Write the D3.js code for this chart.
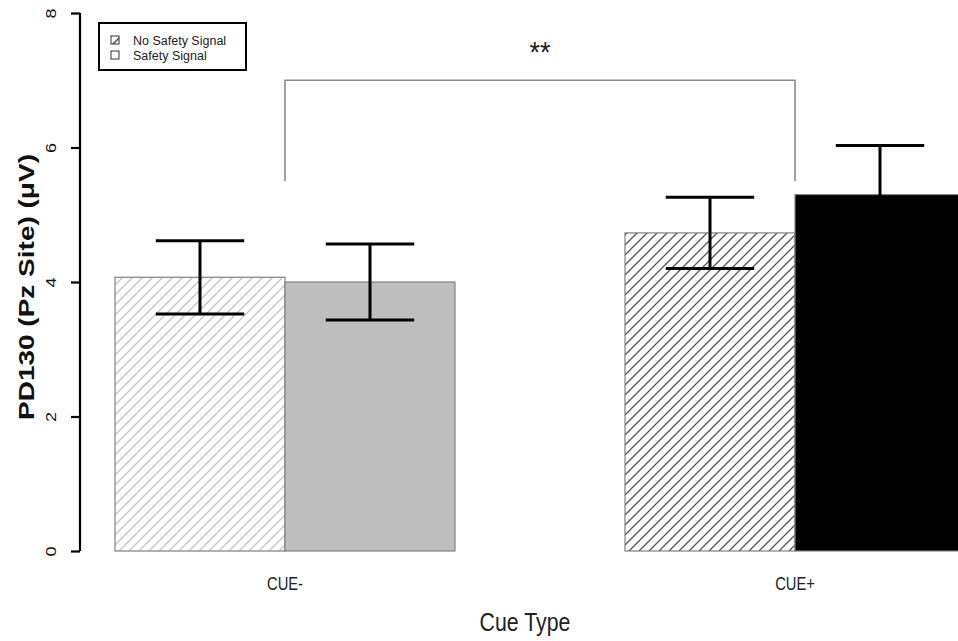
<!DOCTYPE html>
<html>
<head>
<meta charset="utf-8">
<script src="https://cdn.jsdelivr.net/npm/d3@7"></script>
<style>
  body { margin: 0; background: #fff; }
  text { font-family: "Liberation Sans", Arial, sans-serif; }
</style>
</head>
<body>
<div id="chart"></div>
<script>
//data
var groups = ["CUE-", "CUE+"],
    series = ["No Safety Signal", "Safety Signal"];
var noSignalMean = [4.07, 4.73],
    noSignalSE = [0.545, 0.53],
    safetyMean = [4.00, 5.30],
    safetySE = [0.565, 0.73];
var yTicks = [0, 2, 4, 6, 8];
var bracketFrom = 5.5, bracketTo = 7.0, bracketLabel = "**";

var width = 958, height = 641;
var squish = 0.82; //the original figure is a bit narrow horizontally

var svg = d3.select("#chart").append("svg")
    .attr("width", width)
    .attr("height", height);

//hatch patterns
var defs = svg.append("defs");
function hatch(id, color) {
  var p = defs.append("pattern")
      .attr("id", id)
      .attr("patternUnits", "userSpaceOnUse")
      .attr("width", 10)
      .attr("height", 10);
  p.append("rect").attr("width", 10).attr("height", 10).attr("fill", "white");
  p.append("path")
      .attr("d", "M0,10 L10,0 M-2,2 L2,-2 M8,12 L12,8")
      .attr("stroke", color)
      .attr("stroke-width", 1.3);
}
hatch("hatchLight", "#c4c4c4");
hatch("hatchDark", "#555");
hatch("hatchLegend", "#444");

//scales
var y = d3.scaleLinear().domain([0, 8]).range([551, 13]);
var x0 = d3.scaleBand().domain(groups).range([115, 965]).paddingInner(1 / 3).paddingOuter(0);
var x1 = d3.scaleBand().domain(series).range([0, x0.bandwidth()]);

//one row per bar
var fills = {
  "CUE-": ["url(#hatchLight)", "#bebebe"],
  "CUE+": ["url(#hatchDark)", "#000"]
};
var bars = [];
groups.forEach(function (g, i) {
  bars.push({group: g, series: series[0], mean: noSignalMean[i], se: noSignalSE[i], fill: fills[g][0]});
  bars.push({group: g, series: series[1], mean: safetyMean[i], se: safetySE[i], fill: fills[g][1]});
});

//bars
svg.append("g")
  .selectAll("rect")
  .data(bars)
  .enter().append("rect")
    .attr("x", function (d) { return x0(d.group) + x1(d.series); })
    .attr("y", function (d) { return y(d.mean); })
    .attr("width", x1.bandwidth())
    .attr("height", function (d) { return y(0) - y(d.mean); })
    .attr("fill", function (d) { return d.fill; })
    .attr("stroke", "#808080")
    .attr("stroke-width", 1.2);

//error bars
var cap = x1.bandwidth() * 0.26;
var err = svg.append("g")
  .selectAll("g")
  .data(bars)
  .enter().append("g")
    .attr("stroke", "black")
    .attr("stroke-width", 3);
function cx(d) { return x0(d.group) + x1(d.series) + x1.bandwidth() / 2; }
err.append("line")
    .attr("x1", cx).attr("x2", cx)
    .attr("y1", function (d) { return y(d.mean + d.se); })
    .attr("y2", function (d) { return y(d.mean - d.se); });
err.append("line")
    .attr("x1", function (d) { return cx(d) - cap; })
    .attr("x2", function (d) { return cx(d) + cap; })
    .attr("y1", function (d) { return y(d.mean + d.se); })
    .attr("y2", function (d) { return y(d.mean + d.se); });
err.append("line")
    .attr("x1", function (d) { return cx(d) - cap; })
    .attr("x2", function (d) { return cx(d) + cap; })
    .attr("y1", function (d) { return y(d.mean - d.se); })
    .attr("y2", function (d) { return y(d.mean - d.se); });

//significance bracket
var bx1 = x0(groups[0]) + x0.bandwidth() / 2,
    bx2 = x0(groups[1]) + x0.bandwidth() / 2;
svg.append("path")
    .attr("d", "M" + bx1 + "," + y(bracketFrom) + "V" + y(bracketTo) + "H" + bx2 + "V" + y(bracketFrom))
    .attr("fill", "none")
    .attr("stroke", "#8a8a8a")
    .attr("stroke-width", 1.6);
svg.append("text")
    .attr("transform", "translate(" + (bx1 + bx2) / 2 + "," + (y(bracketTo) - 18) + ") scale(0.9,1)")
    .attr("text-anchor", "middle")
    .style("font-size", "30px")
    .attr("fill", "#222")
    .text(bracketLabel);

//y axis
var yAxis = svg.append("g")
    .attr("transform", "translate(80,0)")
    .call(d3.axisLeft(y).tickValues(yTicks).tickSize(9).tickFormat(d3.format("d")));
yAxis.select(".domain").attr("stroke-width", 2.2).attr("d", "M0," + y(0) + "V" + y(8));
yAxis.selectAll(".tick line").attr("stroke-width", 2.2);
yAxis.selectAll(".tick text")
    .attr("x", null).attr("dy", null)
    .attr("text-anchor", "middle")
    .attr("transform", "translate(-24,0) scale(" + squish + ",1) rotate(-90)")
    .attr("y", 0)
    .style("font-size", "18px")
    .attr("fill", "#111");

svg.append("text")
    .attr("transform", "translate(34,287) scale(" + squish + ",1) rotate(-90)")
    .attr("text-anchor", "middle")
    .style("font-size", "28px")
    .style("font-weight", "bold")
    .attr("fill", "#111")
    .text("PD130 (Pz Site) (\u03bcV)");

//x labels
svg.append("g")
  .selectAll("text")
  .data(groups)
  .enter().append("text")
    .attr("transform", function (d) {
      return "translate(" + (x0(d) + x0.bandwidth() / 2) + ",590) scale(" + squish + ",1)";
    })
    .attr("text-anchor", "middle")
    .style("font-size", "18px")
    .attr("fill", "#222")
    .text(function (d) { return d; });

svg.append("text")
    .attr("transform", "translate(525,631) scale(" + squish + ",1)")
    .attr("text-anchor", "middle")
    .style("font-size", "26px")
    .attr("fill", "#222")
    .text("Cue Type");

//legend
var legend = svg.append("g");
legend.append("rect")
    .attr("x", 99).attr("y", 23).attr("width", 147).attr("height", 47)
    .attr("fill", "white").attr("stroke", "black").attr("stroke-width", 2);
var legendFills = ["url(#hatchLegend)", "white"];
var li = legend.selectAll(".item")
  .data(series)
  .enter().append("g")
    .attr("class", "item")
    .attr("transform", function (d, i) { return "translate(111," + (36 + i * 15) + ")"; });
li.append("rect")
    .attr("width", 8).attr("height", 8)
    .attr("fill", function (d, i) { return legendFills[i]; })
    .attr("stroke", "#333").attr("stroke-width", 1);
li.append("text")
    .attr("x", 22).attr("y", 8.5)
    .style("font-size", "12.5px")
    .attr("fill", "#222")
    .text(function (d) { return d; });
</script>
</body>
</html>
